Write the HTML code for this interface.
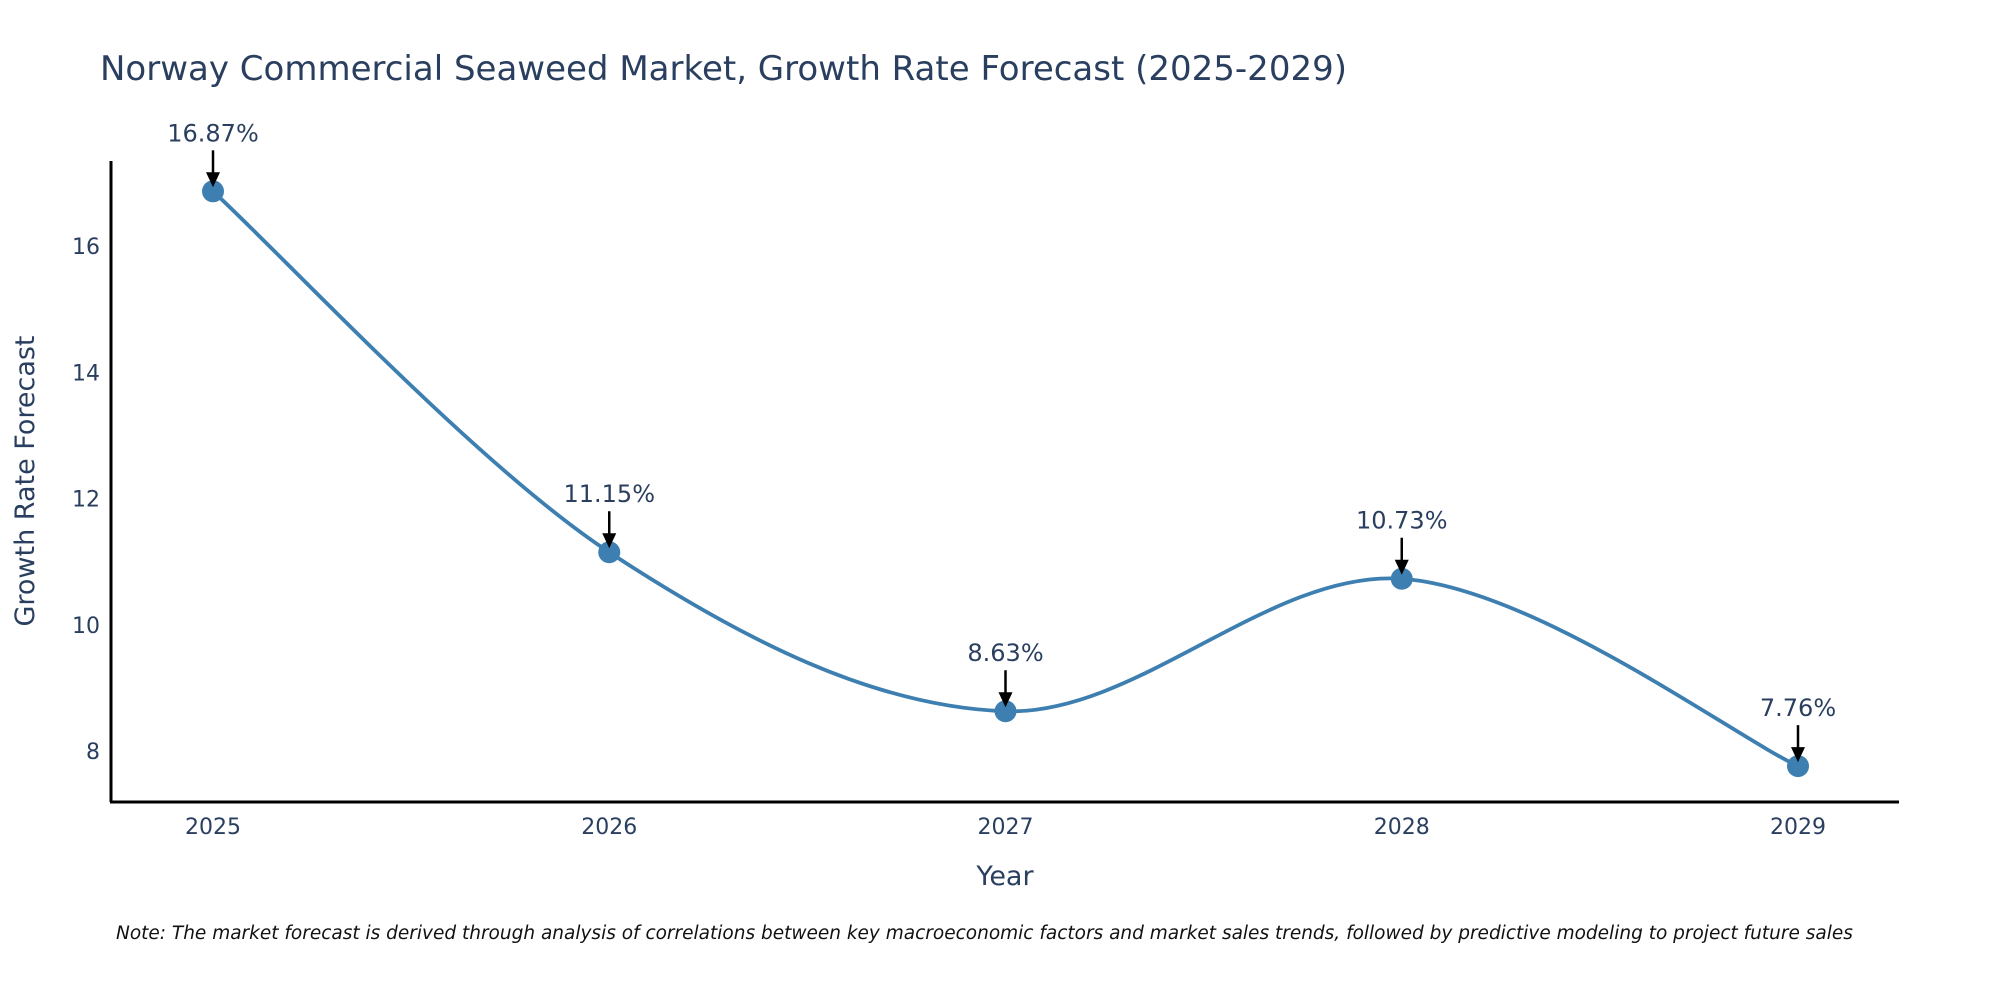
<!DOCTYPE html>
<html><head><meta charset="utf-8"><style>
body{margin:0;background:#fff;}
svg{display:block;font-family:"DejaVu Sans","Liberation Sans",sans-serif;}
</style></head><body>
<svg width="2000" height="1000" viewBox="0 0 2000 1000">
<text x="100" y="80" font-size="34" fill="#2a3f5f">Norway Commercial Seaweed Market, Growth Rate Forecast (2025-2029)</text>
<g id="yticks"></g>
<g id="xticks"></g>
<path id="line" fill="none" stroke="#3d7fb0" stroke-width="3.8"/>
<g id="marks"></g>
<g id="anns"></g>
<line x1="111" y1="161" x2="111" y2="802" stroke="#000" stroke-width="3"/>
<line x1="110" y1="802" x2="1899" y2="802" stroke="#000" stroke-width="3"/>
<text x="1005" y="885" font-size="27" fill="#2a3f5f" text-anchor="middle">Year</text>
<text transform="translate(34,481) rotate(-90)" font-size="27" fill="#2a3f5f" text-anchor="middle">Growth Rate Forecast</text>
<text x="116" y="939" font-size="18.5" font-style="italic" fill="#111">Note: The market forecast is derived through analysis of correlations between key macroeconomic factors and market sales trends, followed by predictive modeling to project future sales</text>
</svg>
<script>
const years = [2025, 2026, 2027, 2028, 2029];
const values = [16.87, 11.15, 8.63, 10.73, 7.76];
const labels = ["16.87%", "11.15%", "8.63%", "10.73%", "7.76%"];
const yTicks = [8, 10, 12, 14, 16];
const NS = "http://www.w3.org/2000/svg";
function xs(yr){ return 213 + (yr - 2025) * 396.25; }
function ys(v){ return 751 - (v - 8) * 63.1; }
function mk(tag, attrs, parent){ const e = document.createElementNS(NS, tag); for (const k in attrs) e.setAttribute(k, attrs[k]); parent.appendChild(e); return e; }
const yt = document.getElementById('yticks');
yTicks.forEach(t => {
  const e = mk('text', {x: 100, y: ys(t) + 8, 'font-size': 22, fill: '#2a3f5f', 'text-anchor': 'end'}, yt);
  
  
  e.textContent = t;
});
const xt = document.getElementById('xticks');
years.forEach(y => {
  const e = mk('text', {x: xs(y), y: 834, 'font-size': 22, fill: '#2a3f5f', 'text-anchor': 'middle'}, xt);
  
  
  e.textContent = y;
});
const pts = years.map((y, i) => [xs(y), ys(values[i])]);
let d = `M${pts[0][0]},${pts[0][1]}`;
for (let i = 0; i < pts.length - 1; i++) {
  const p0 = pts[Math.max(0, i - 1)], p1 = pts[i], p2 = pts[i + 1], p3 = pts[Math.min(pts.length - 1, i + 2)];
  const s = 1/6;
  d += ` C${p1[0] + (p2[0] - p0[0]) * s},${p1[1] + (p2[1] - p0[1]) * s} ${p2[0] - (p3[0] - p1[0]) * s},${p2[1] - (p3[1] - p1[1]) * s} ${p2[0]},${p2[1]}`;
}
document.getElementById('line').setAttribute('d', d);
const mg = document.getElementById('marks'), ag = document.getElementById('anns');
pts.forEach((p, i) => {
  const c = mk('circle', {cx: p[0], cy: p[1], r: 11, fill: '#3d7fb0'}, mg);
  
  
  const l = mk('line', {x1: p[0], y1: p[1] - 41, x2: p[0], y2: p[1] - 16, stroke: '#000', 'stroke-width': 2.5}, ag);
  
  
  const h = mk('polygon', {points: `${p[0] - 7},${p[1] - 19} ${p[0] + 7},${p[1] - 19} ${p[0]},${p[1] - 4}`, fill: '#000'}, ag);
  
  
  const t = mk('text', {x: p[0], y: p[1] - 50, 'font-size': 24, fill: '#2a3f5f', 'text-anchor': 'middle'}, ag);
  
  
  t.textContent = labels[i];
});
</script>
</body></html>
